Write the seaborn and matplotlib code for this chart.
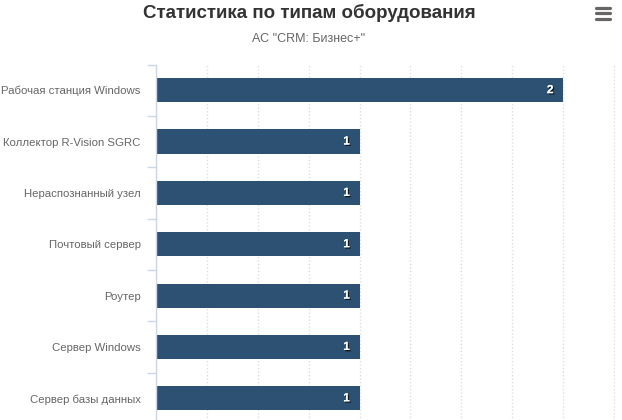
import matplotlib
matplotlib.use('Agg')
import matplotlib.pyplot as plt
import matplotlib.patheffects as pe
from matplotlib.lines import Line2D
import numpy as np
import pandas as pd
import seaborn as sns

TITLE = 'Статистика по типам оборудования'
SUBTITLE = 'АС "CRM: Бизнес+"'

categories = [
    'Рабочая станция Windows',
    'Коллектор R-Vision SGRC',
    'Нераспознанный узел',
    'Почтовый сервер',
    'Роутер',
    'Сервер Windows',
    'Сервер базы данных',
]
counts = [2, 1, 1, 1, 1, 1, 1]

BAR_COLOR = '#2c5173'
AXIS_COLOR = '#ccd6eb'
GRID_COLOR = '#dddddd'
LABEL_COLOR = '#666666'

df = pd.DataFrame({'category': categories, 'count': counts})

sns.set_style('white')
plt.rcParams['font.family'] = ['Liberation Sans', 'DejaVu Sans']

fig = plt.figure(figsize=(6.22, 4.20), dpi=100)
W, H = 622.0, 420.0
ax = fig.add_axes([156 / W, -4 / H, 459 / W, (424 - 64.5) / H])

sns.barplot(data=df, x='count', y='category', orient='h', color=BAR_COLOR,
            saturation=1, width=0.47, linewidth=0, ax=ax, zorder=3)

ax.set_xlim(0, 2.255)
ax.set_ylim(len(categories) - 0.5, -0.5)
ax.set_xticks(np.arange(0, 2.26, 0.25))
ax.set_xticklabels([])
ax.tick_params(axis='x', length=0)
ax.grid(axis='x', color=GRID_COLOR, linestyle=(0, (1, 1.5)), linewidth=1, zorder=0)
ax.grid(axis='y', visible=False)
ax.set_xlabel('')
ax.set_ylabel('')

for side in ['top', 'right', 'bottom']:
    ax.spines[side].set_visible(False)
ax.spines['left'].set_color(AXIS_COLOR)
ax.spines['left'].set_linewidth(1)
ax.spines['left'].set_zorder(4)

# category ticks sit between the bars
ax.set_yticks(np.arange(len(categories) + 1) - 0.5, minor=True)
ax.tick_params(axis='y', which='minor', left=True, length=6.5, width=1,
               color=AXIS_COLOR)
ax.tick_params(axis='y', which='major', left=False, length=0, pad=11,
               labelsize=8.2, labelcolor=LABEL_COLOR)

shadow = [pe.withSimplePatchShadow(offset=(1, -1), shadow_rgbFace='black', alpha=0.7),
          pe.Normal()]
for i, v in enumerate(counts):
    ax.annotate(str(v), xy=(v, i), xytext=(-7, 0), textcoords='offset points',
                ha='right', va='center', color='white', fontsize=8.5,
                fontweight='bold', path_effects=shadow, zorder=5)

fig.text(309 / W, 1 - 12.5 / H, TITLE, ha='center', va='center',
         fontsize=13.5, fontweight='bold', color='#333333',
         family=['Liberation Sans Narrow', 'Liberation Sans', 'DejaVu Sans'])
fig.text(309 / W, 1 - 39 / H, SUBTITLE, ha='center', va='center',
         fontsize=9, color=LABEL_COLOR)

# menu icon
for y in (7.5, 13, 18.5):
    fig.add_artist(Line2D([596 / W, 610 / W], [1 - y / H, 1 - y / H],
                          color='#666666', linewidth=2.3,
                          solid_capstyle='round', transform=fig.transFigure))

fig.savefig('out.png', dpi=100)
